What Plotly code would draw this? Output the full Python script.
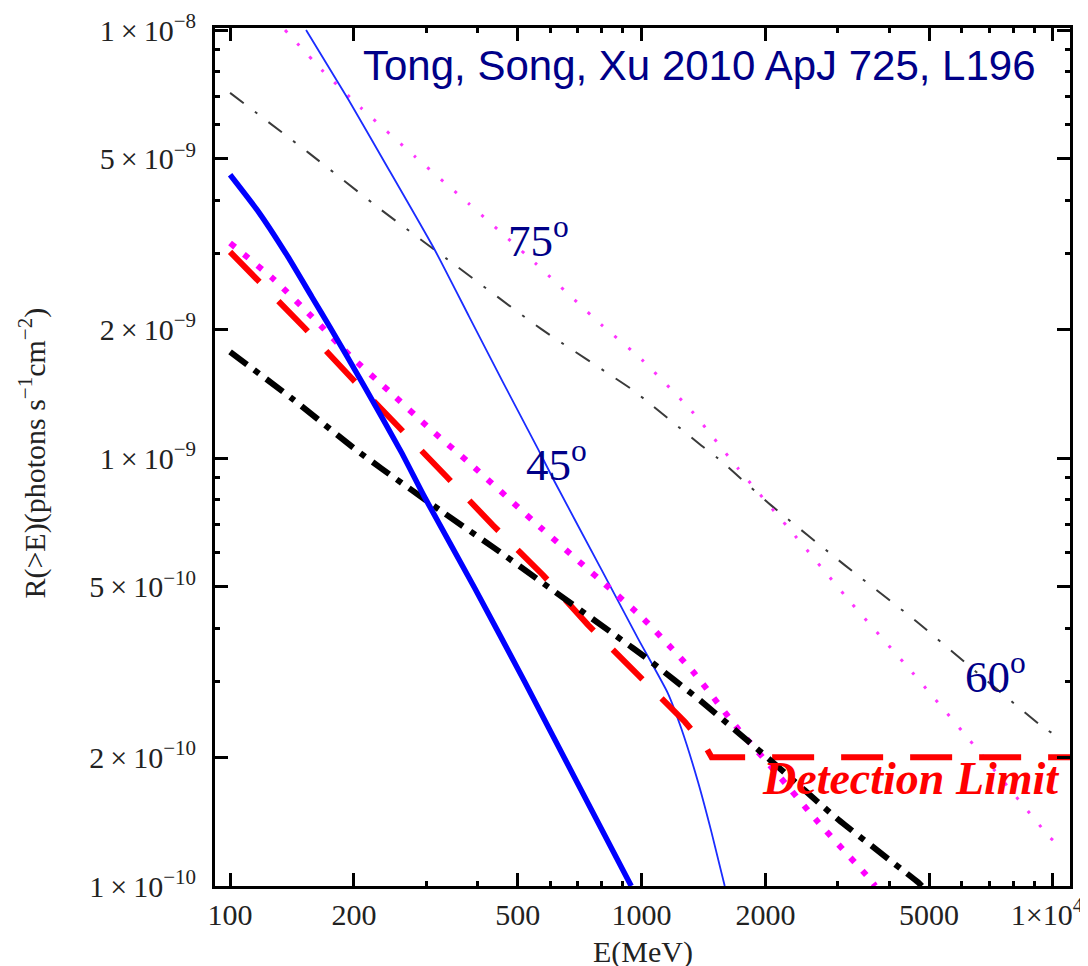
import numpy as np
import plotly.graph_objects as go

# ---------------- data ----------------
# thick blue solid
E_blue_thick = [100, 117, 138, 158, 175, 212, 261, 297, 393, 520, 688, 944]
R_blue_thick = [4.59e-9, 3.77e-9, 2.96e-9, 2.38e-9, 2.02e-9, 1.47e-9, 1.03e-9,
                8.1e-10, 4.97e-10, 3.0e-10, 1.79e-10, 1.0e-10]

# thin blue solid
E_blue_thin = [153, 194, 238, 314, 381, 461, 560, 615, 798, 980, 1159, 1250,
               1372, 1478, 1593]
R_blue_thin = [1.0e-8, 6.87e-9, 4.89e-9, 3.07e-9, 2.14e-9, 1.50e-9, 1.05e-9,
               8.8e-10, 5.5e-10, 3.79e-10, 2.82e-10, 2.33e-10, 1.75e-10,
               1.34e-10, 1.0e-10]

# thick magenta dotted
E_mag_thick = [100, 128, 158, 195, 244, 306, 386, 571, 815, 1009, 1333, 1715,
               2146, 2686, 3551, 3700]
R_mag_thick = [3.18e-9, 2.61e-9, 2.14e-9, 1.74e-9, 1.43e-9, 1.17e-9, 9.64e-10,
               6.85e-10, 5.07e-10, 4.22e-10, 3.17e-10, 2.33e-10, 1.82e-10,
               1.41e-10, 1.05e-10, 1.0e-10]

# thin magenta dotted
E_mag_thin = [136, 167, 208, 281, 379, 550, 798, 1000, 1322, 1715, 2355, 3236,
              4532, 6278, 9821, 10000]
R_mag_thin = [1.0e-8, 8.07e-9, 6.58e-9, 5.07e-9, 3.94e-9, 2.86e-9, 2.05e-9,
              1.70e-9, 1.29e-9, 9.46e-10, 6.6e-10, 4.58e-10, 3.17e-10,
              2.19e-10, 1.30e-10, 1.28e-10]

# thick red dashed (detection limit)
E_red = [100, 152, 197, 258, 336, 435, 576, 742, 971, 1274, 1425, 1480, 11000]
R_red = [3.03e-9, 2.01e-9, 1.54e-9, 1.17e-9, 9.04e-10, 6.97e-10, 5.33e-10,
         4.07e-10, 3.14e-10, 2.42e-10, 2.13e-10, 2.0e-10, 2.0e-10]

# thick black dash-dot
E_black_thick = [100, 141, 201, 233, 327, 440, 593, 944, 1019, 1397, 2066,
                 3006, 4700, 4800]
R_black_thick = [1.77e-9, 1.38e-9, 1.05e-9, 9.46e-10, 7.5e-10, 6.15e-10,
                 5.0e-10, 3.62e-10, 3.43e-10, 2.70e-10, 1.96e-10, 1.43e-10,
                 1.02e-10, 1.0e-10]

# thin grey dash-dot
E_grey_thin = [100, 155, 233, 351, 571, 944, 1019, 1397, 1535, 2066, 3118,
               4660, 6950, 9460, 10000]
R_grey_thin = [7.13e-9, 5.17e-9, 3.80e-9, 2.83e-9, 2.0e-9, 1.45e-9, 1.37e-9,
               1.07e-9, 9.98e-10, 7.75e-10, 5.62e-10, 4.15e-10, 3.0e-10,
               2.35e-10, 2.27e-10]

x_tick_vals = [100, 200, 500, 1000, 2000, 5000, 10000]
x_tick_text = ["100", "200", "500", "1000", "2000", "5000",
               "1×10<sup>4</sup>\u2009\u2009"]
x_minor_vals = [300, 400, 600, 700, 800, 900, 3000, 4000, 6000, 7000, 8000, 9000]

y_tick_vals = [1e-10, 2e-10, 5e-10, 1e-9, 2e-9, 5e-9, 1e-8]
y_tick_text = ["1\u2009×\u200910<sup>−10</sup>", "2\u2009×\u200910<sup>−10</sup>",
               "5\u2009×\u200910<sup>−10</sup>", "1\u2009×\u200910<sup>−9</sup>",
               "2\u2009×\u200910<sup>−9</sup>", "5\u2009×\u200910<sup>−9</sup>",
               "1\u2009×\u200910<sup>−8</sup>"]
y_minor_vals = [3e-10, 4e-10, 6e-10, 7e-10, 8e-10, 9e-10,
                3e-9, 4e-9, 6e-9, 7e-9, 8e-9, 9e-9]

# ---------------- figure ----------------
fig = go.Figure()

def add(E, R, color, width, dash, shape="spline"):
    line = dict(color=color, width=width, dash=dash, shape=shape)
    if shape == "spline":
        line["smoothing"] = 0.5
    fig.add_trace(go.Scatter(x=E, y=R, mode="lines", line=line,
                             showlegend=False, hoverinfo="skip"))

add(E_grey_thin, R_grey_thin, "#3a3a3a", 2, "17px,14px,3px,14px")
add(E_mag_thin, R_mag_thin, "#ff33ff", 3, "3px,15px")
add(E_blue_thin, R_blue_thin, "#1a2cff", 1.8, "solid")
add(E_mag_thick, R_mag_thick, "#ff00ff", 6, "6px,11.5px")
add(E_red, R_red, "#ff0000", 6, "42px,27px", shape="linear")
add(E_black_thick, R_black_thick, "#000000", 6, "21px,9px,6px,9px")
add(E_blue_thick, R_blue_thick, "#0000ff", 5.5, "solid")

serif = "Liberation Serif, Times New Roman, serif"
navy = "#000088"

annotations = [
    dict(text="Tong, Song, Xu 2010 ApJ 725, L196", x=np.log10(1380), y=np.log10(8.26e-9),
         font=dict(family="Liberation Sans, Arial, sans-serif", size=42, color=navy)),
    dict(text="75<sup>o</sup>", x=np.log10(563), y=np.log10(3.28e-9),
         font=dict(family=serif, size=45, color=navy)),
    dict(text="45<sup>o</sup>", x=np.log10(621), y=np.log10(9.84e-10),
         font=dict(family=serif, size=45, color=navy)),
    dict(text="60<sup>o</sup>", x=np.log10(7250), y=np.log10(3.13e-10),
         font=dict(family=serif, size=45, color=navy)),
    dict(text="<b><i>Detection Limit</i></b>", x=np.log10(4505), y=np.log10(1.78e-10),
         font=dict(family=serif, size=46, color="#ff0000")),
]
for a in annotations:
    a.update(xref="x", yref="y", showarrow=False, xanchor="center", yanchor="middle")

annotations += [
    dict(text="E(MeV)", xref="paper", yref="paper", x=0.5, y=-0.0775,
         showarrow=False, xanchor="center", yanchor="middle",
         font=dict(family=serif, size=30, color="#222222")),
    dict(text="R(>E)(photons s<sup>−1</sup>cm<sup>−2</sup>)", xref="paper", yref="paper",
         x=-0.213, y=0.505, textangle=-90, showarrow=False,
         xanchor="center", yanchor="middle",
         font=dict(family=serif, size=30, color="#222222")),
]

axis_common = dict(type="log", showline=True, linecolor="black", linewidth=3,
                   mirror="allticks", ticks="inside", ticklen=13, tickwidth=3,
                   tickcolor="black", showgrid=False, zeroline=False,
                   automargin=False,
                   tickfont=dict(family=serif, size=30, color="#222222"))

fig.update_layout(
    width=1088, height=966,
    margin=dict(l=207, r=26, t=20, b=88, autoexpand=False),
    paper_bgcolor="white", plot_bgcolor="white",
    xaxis=dict(**axis_common, range=[np.log10(91.9), np.log10(11000)],
               tickmode="array", tickvals=x_tick_vals, ticktext=x_tick_text,
               minor=dict(tickmode="array", tickvals=x_minor_vals, ticks="inside",
                          ticklen=5, tickwidth=2.5, tickcolor="black")),
    yaxis=dict(**axis_common, range=[-10, -7.9953],
               tickmode="array", tickvals=y_tick_vals, ticktext=y_tick_text,
               ticklabelstandoff=10,
               minor=dict(tickmode="array", tickvals=y_minor_vals, ticks="inside",
                          ticklen=5, tickwidth=2.5, tickcolor="black")),
    annotations=annotations,
)

fig.write_html("out.html")
